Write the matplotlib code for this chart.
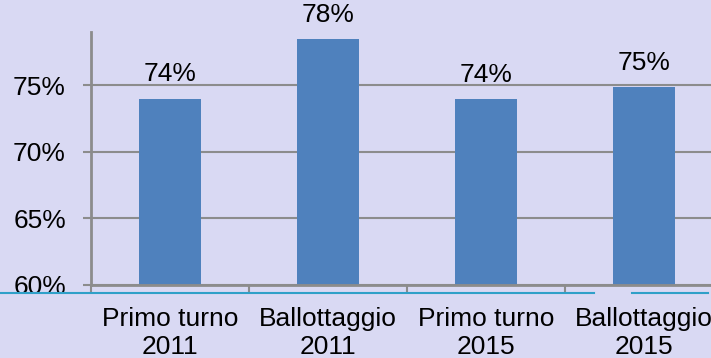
import matplotlib.pyplot as plt
from matplotlib.lines import Line2D
import numpy as np

# affluenza alle urne
categories = ['Primo turno\n2011', 'Ballottaggio\n2011', 'Primo turno\n2015', 'Ballottaggio\n2015']
turnout = [74.0, 78.45, 73.95, 74.85]
yticks = [60, 65, 70, 75]

bg = '#D9D9F3'
bar_color = '#4F81BD'
grid_color = '#8C8C8C'

plt.rcParams['font.family'] = ['Liberation Sans', 'DejaVu Sans']

fig = plt.figure(figsize=(7.11, 3.58), dpi=100)
fig.patch.set_facecolor(bg)
ax = fig.add_axes([91 / 711, 1 - 285 / 358, 632 / 711, 253 / 358])
ax.set_facecolor(bg)

x = np.arange(len(categories))
ax.bar(x, turnout, width=0.39, color=bar_color, zorder=3)

for xi, v in zip(x, turnout):
    ax.annotate('{:.0f}%'.format(v), (xi, v), xytext=(0, 9), textcoords='offset points',
                ha='center', va='bottom', fontsize=19, color='black')

ax.set_xlim(-0.5, len(categories) - 0.5)
ax.set_ylim(60, 79)

ax.set_yticks(yticks)
ax.set_yticklabels(['{}%'.format(t) for t in yticks], fontsize=19)
ax.tick_params(axis='y', length=6, width=1.5, color=grid_color, pad=12)
ax.yaxis.grid(True, color=grid_color, linewidth=1.5, zorder=0)

ax.set_xticks(x)
ax.set_xticklabels(categories, fontsize=19, linespacing=1.2)
ax.tick_params(axis='x', which='major', length=0, pad=16)
ax.set_xticks(np.arange(-0.5, len(categories)), minor=True)
ax.tick_params(axis='x', which='minor', length=6, width=1.5, color=grid_color)

for side in ['top', 'right']:
    ax.spines[side].set_visible(False)
for side in ['left', 'bottom']:
    ax.spines[side].set_color(grid_color)
    ax.spines[side].set_linewidth(2)
    ax.spines[side].set_zorder(4)

# decorative slide line
line_y = 1 - 293 / 358
fig.add_artist(Line2D([0, 594 / 711], [line_y, line_y], color='#2FA0C8', linewidth=1.5))
fig.add_artist(Line2D([632 / 711, 708 / 711], [line_y, line_y], color='#2FA0C8', linewidth=1.5))

fig.savefig('out.png', dpi=100, facecolor=bg)
